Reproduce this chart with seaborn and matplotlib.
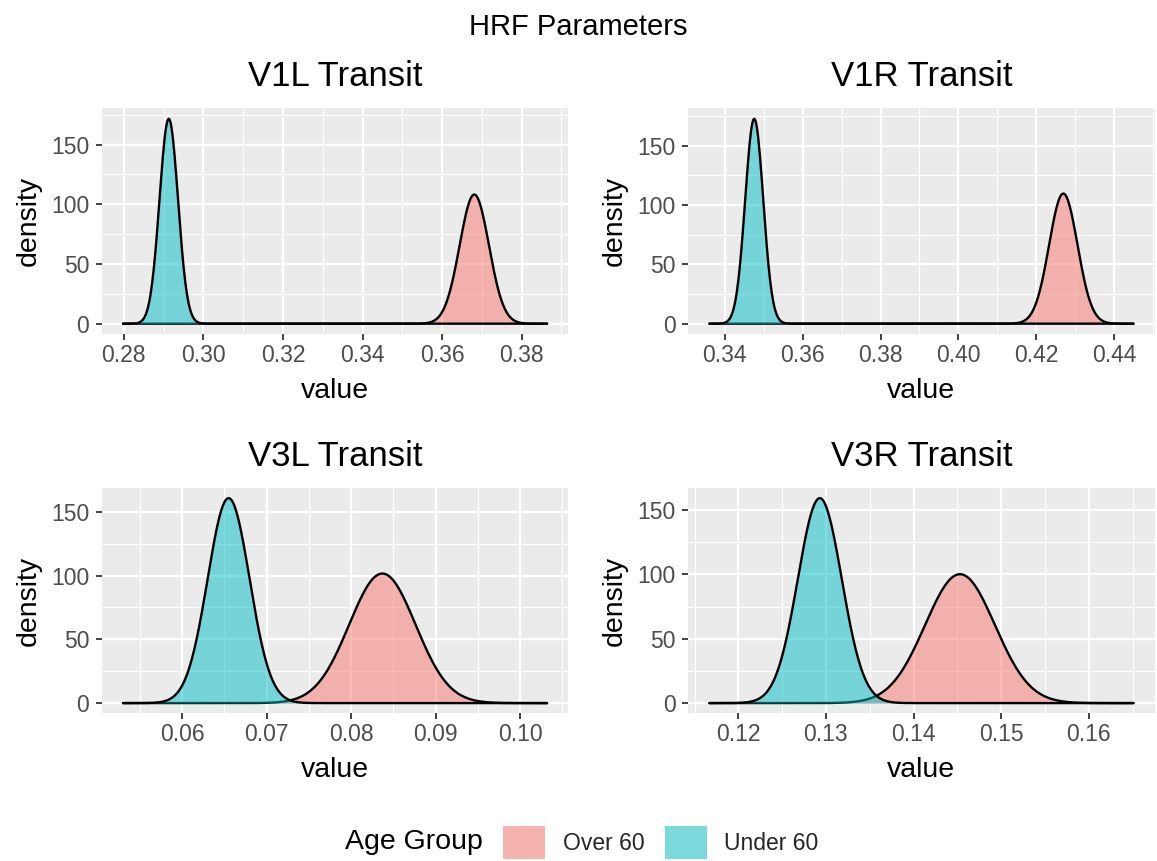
import numpy as np
import pandas as pd
import seaborn as sns
import matplotlib.pyplot as plt
from matplotlib.colors import to_rgb
from matplotlib.patches import Patch
from matplotlib.ticker import MultipleLocator

# panels and groups
panels = ["V1L Transit", "V1R Transit", "V3L Transit", "V3R Transit"]
groups = ["Over 60", "Under 60"]
colors = {"Over 60": "#F8766D", "Under 60": "#00BFC4"}

# mode and peak height of each density curve
over_mode = [0.3681, 0.4269, 0.0837, 0.1453]
over_peak = [108.2, 109.6, 101.6, 100.2]
under_mode = [0.2913, 0.3476, 0.0655, 0.1293]
under_peak = [171.7, 172.6, 160.7, 159.3]

# x span of the curves in each panel
x_start = [0.2798, 0.3361, 0.0530, 0.1167]
x_end = [0.3864, 0.4449, 0.1032, 0.1651]

x_breaks = [
    [0.28, 0.30, 0.32, 0.34, 0.36, 0.38],
    [0.34, 0.36, 0.38, 0.40, 0.42, 0.44],
    [0.06, 0.07, 0.08, 0.09, 0.10],
    [0.12, 0.13, 0.14, 0.15, 0.16],
]
y_breaks = [0, 50, 100, 150]

# long table of the density curves
rows = []
for i, p in enumerate(panels):
    xs = np.linspace(x_start[i], x_end[i], 512)
    for g, mode, peak in [("Over 60", over_mode[i], over_peak[i]),
                          ("Under 60", under_mode[i], under_peak[i])]:
        sd = 1 / (peak * np.sqrt(2 * np.pi))
        dens = peak * np.exp(-0.5 * ((xs - mode) / sd) ** 2)
        rows.append(pd.DataFrame({"panel": p, "group": g, "value": xs, "density": dens}))
df = pd.concat(rows, ignore_index=True)

sns.set_theme(style="darkgrid", rc={"axes.facecolor": "#EBEBEB", "grid.color": "white"})
plt.rcParams['font.family'] = ['Liberation Sans', 'DejaVu Sans']

fig, axes = plt.subplots(2, 2, figsize=(11.57, 8.61), dpi=100)
fig.subplots_adjust(left=0.088, right=0.998, top=0.874, bottom=0.1715, wspace=0.257, hspace=0.683)

for i, (ax, p) in enumerate(zip(axes.flat, panels)):
    sub = df[df.panel == p]
    for k, g in enumerate(groups):
        d = sub[sub.group == g]
        ax.fill_between(d.value, 0, d.density, color=colors[g], alpha=0.5, lw=0, zorder=2 + 2 * k)
        sns.lineplot(data=d, x="value", y="density", color="black", lw=1.7, ax=ax, zorder=3 + 2 * k)

    rng = x_end[i] - x_start[i]
    ax.set_xlim(x_start[i] - 0.05 * rng, x_end[i] + 0.05 * rng)
    ymax = max(over_peak[i], under_peak[i])
    ax.set_ylim(-0.05 * ymax, 1.05 * ymax)

    ax.set_xticks(x_breaks[i])
    ax.set_xticklabels([f"{b:.2f}" for b in x_breaks[i]])
    ax.xaxis.set_minor_locator(MultipleLocator((x_breaks[i][1] - x_breaks[i][0]) / 2))
    ax.set_yticks(y_breaks)
    ax.yaxis.set_minor_locator(MultipleLocator(25))

    ax.grid(which="major", color="white", lw=1.6)
    ax.grid(which="minor", color="white", lw=0.8)
    for s in ax.spines.values():
        s.set_visible(False)
    ax.tick_params(which="major", bottom=True, left=True, length=4.5, width=1.3,
                   color="#333333", labelcolor="#4D4D4D", labelsize=16.5)
    ax.tick_params(axis="x", which="major", pad=2.5)
    ax.tick_params(axis="y", which="major", pad=4.5)
    ax.tick_params(which="minor", length=0)

    ax.set_title(p, fontsize=25, pad=16, color="black")
    ax.set_xlabel("value", fontsize=20.5, labelpad=8, color="black")
    ax.set_ylabel("density", fontsize=20.5, labelpad=7, color="black")

fig.suptitle("HRF Parameters", fontsize=21, y=0.969, va="center", color="black")

# legend at the bottom, keys sit on a grey95 key background
def on_key_bg(c, a=0.5, bg="#F2F2F2"):
    c, b = np.array(to_rgb(c)), np.array(to_rgb(bg))
    return tuple(a * c + (1 - a) * b)

handles = [Patch(facecolor=on_key_bg(colors[g]), edgecolor="none") for g in groups]
fig.text(0.3578, 0.0215, "Age Group", fontsize=20.5, ha="center", va="center", color="black")
fig.legend(handles, groups, loc="center", bbox_to_anchor=(0.5712, 0.0215), ncol=2, frameon=False,
           fontsize=16.5, handlelength=1.84, handleheight=1.84, handletextpad=0.76,
           columnspacing=0.9, borderpad=0)

fig.savefig("out.png", dpi=100)
